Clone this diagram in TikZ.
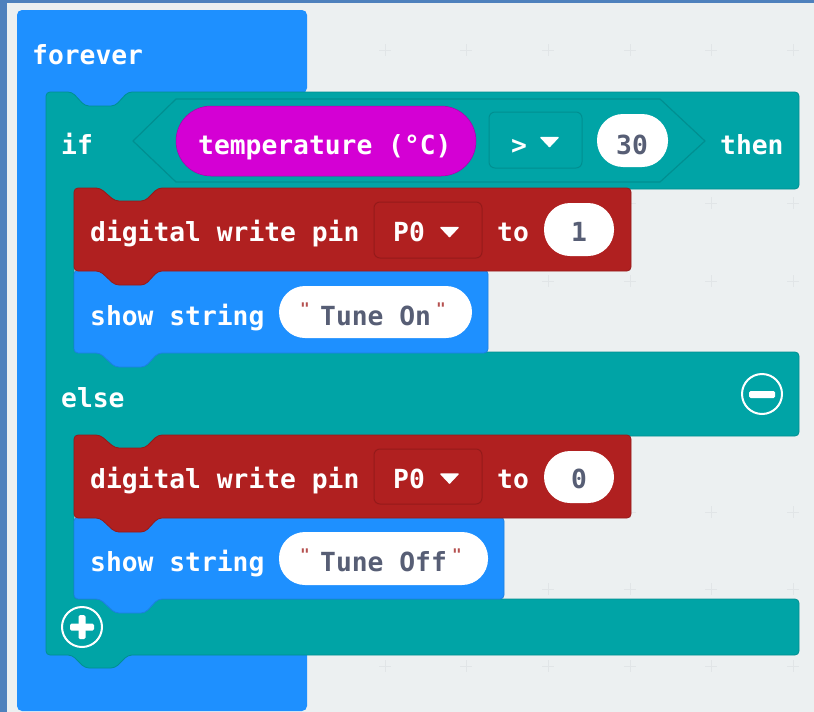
\documentclass[tikz,border=0pt]{standalone}
\usepackage{fontspec}
\setmainfont{DejaVu Sans Mono}[BoldFont={DejaVu Sans Mono Bold}]
\newfontfamily\qfont{DejaVu Sans Mono Bold}
\definecolor{bgc}{HTML}{ECF0F1}
\definecolor{framec}{HTML}{4E81BD}
\definecolor{gridc}{HTML}{E1E5E7}
\definecolor{bluec}{HTML}{1E90FF}
\definecolor{blued}{HTML}{1C7FE0}
\definecolor{tealc}{HTML}{00A4A6}
\definecolor{teald}{HTML}{008F91}
\definecolor{redc}{HTML}{B02020}
\definecolor{redd}{HTML}{951A1A}
\definecolor{pinkc}{HTML}{D400D4}
\definecolor{pinkd}{HTML}{AA00AA}
\definecolor{inkc}{HTML}{575E75}
\definecolor{quotec}{HTML}{B5504F}
\tikzset{
  x=1pt,y=-1pt,
  lbl/.style={text=white,inner sep=0pt,anchor=base west,font=\fontsize{26.3}{26}\selectfont\bfseries},
  val/.style={text=inkc,inner sep=0pt,anchor=base west,font=\fontsize{26.3}{26}\selectfont\bfseries},
  qt/.style={text=quotec,inner sep=0pt,anchor=base,font=\fontsize{16}{16}\qfont},
  drop/.style={line width=1pt,rounded corners=6pt},
  oval/.style={fill=white,rounded corners=26pt},
  tick/.style={gridc,line width=0.9pt},
  arrowdown/.style={fill=white,draw=white,line width=1.5pt,line join=round},
  icon/.style={draw=white,line width=2pt}
}
% x1 y1 x2 y2 fill stroke
\newcommand{\stackblock}[6]{%
  \path[fill=#5,draw=#6,line width=0.8pt,rounded corners=4pt]
    (#1,#2) -- ({#1+26},#2) -- ({#1+41},{#2+13}) -- ({#1+71},{#2+13}) -- ({#1+84},#2)
    -- (#3,#2) -- (#3,#4) -- ({#1+84},#4) -- ({#1+71},{#4+14}) -- ({#1+41},{#4+14})
    -- ({#1+26},#4) -- (#1,#4) -- cycle;}
\newcommand{\tri}[2]{\path[arrowdown] ({#1-8.5},{#2-4.5}) -- ({#1+8.5},{#2-4.5}) -- (#1,{#2+4.5}) -- cycle;}
\begin{document}
\begin{tikzpicture}
\useasboundingbox (0,0) rectangle (814,712);
\fill[bgc] (0,0) rectangle (814,712);
\fill[framec] (0,0) rectangle (814,3);
\fill[framec] (0,0) rectangle (7,712);
% grid
\foreach \gx in {385,466,548,630,711,793}
  \foreach \gy in {50,203,281,512,589,666}
    \draw[tick] ({\gx-6},\gy) -- ({\gx+6},\gy) (\gx,{\gy-6}) -- (\gx,{\gy+6});
% forever
\path[fill=bluec,rounded corners=5pt] (17,10) -- (307,10) -- (307,93) -- (135,93) -- (135,120)
  -- (60,120) -- (60,640) -- (307,640) -- (307,711) -- (17,711) -- cycle;
% if/else C shape
\path[fill=tealc,draw=teald,line width=0.8pt,rounded corners=4pt]
  (46,92) -- (72,92) -- (85,106) -- (115,106) -- (128,92) -- (799,92) -- (799,189)
  -- (158,189) -- (145,203) -- (115,203) -- (100,189) -- (74,189)
  -- (74,352) -- (799,352) -- (799,436)
  -- (158,436) -- (145,450) -- (115,450) -- (100,436) -- (74,436)
  -- (74,599) -- (799,599) -- (799,655)
  -- (128,655) -- (115,668) -- (85,668) -- (72,655) -- (46,655) -- cycle;
% condition
\draw[teald,line width=1.2pt,line join=round] (133,141) -- (176,99) -- (660,99) -- (705,141) -- (660,182) -- (176,182) -- cycle;
\path[fill=pinkc,draw=pinkd,line width=0.5pt,rounded corners=35pt] (176,106) rectangle (476,176);
\draw[drop,draw=teald] (489,112) rectangle (582,168);
\path[oval] (597,114) rectangle (668,167);
% body blocks
\stackblock{74}{270}{488}{353}{bluec}{blued}
\stackblock{74}{188}{631}{271}{redc}{redd}
\stackblock{74}{517}{504}{599}{bluec}{blued}
\stackblock{74}{435}{631}{518}{redc}{redd}
% row 1
\draw[drop,draw=redd] (374,202) rectangle (482,258);
\path[oval] (544,203) rectangle (614,256);
\path[oval] (279,286) rectangle (472,338);
% row 2
\draw[drop,draw=redd] (374,449) rectangle (482,504);
\path[oval] (544,451) rectangle (614,503);
\path[oval] (279,532) rectangle (488,585);
% labels
\node[lbl] (forever) at (32,64) {forever};
\node[lbl] (ifl) at (61,154) {if};
\node[lbl] (temp) at (198,154) {temperature (°C)};
\node[lbl] (gt) at (511,154) {>};
\tri{549.5}{142}
\node[val] (thirty) at (616,154) {30};
\node[lbl] (then) at (720,154) {then};
\node[lbl] (dw1) at (90,241) {digital write pin};
\node[lbl] (p1) at (393,241) {P0};
\tri{449.5}{232}
\node[lbl] (to1) at (497,241) {to};
\node[val] (one) at (571,241) {1};
\node[lbl] (ss1) at (90,325) {show string};
\node[qt] (q1a) at (305,314) {"};
\node[val] (tuneon) at (320,325) {Tune On};
\node[qt] (q1b) at (441,314) {"};
\node[lbl] (elsel) at (61,407) {else};
\node[lbl] (dw2) at (90,488) {digital write pin};
\node[lbl] (p2) at (393,488) {P0};
\tri{449.5}{478.5}
\node[lbl] (to2) at (497,488) {to};
\node[val] (zero) at (571,488) {0};
\node[lbl] (ss2) at (90,571) {show string};
\node[qt] (q2a) at (305,560) {"};
\node[val] (tuneoff) at (320,571) {Tune Off};
\node[qt] (q2b) at (457,560) {"};
% icons
\node[icon,circle,minimum size=40pt,inner sep=0pt] (minus) at (762,394) {};
\fill[white,rounded corners=1.5pt] (749,391) rectangle (775,398);
\node[icon,circle,minimum size=40pt,inner sep=0pt] (plus) at (82,627) {};
\fill[white,rounded corners=1.5pt] (70,623.5) rectangle (94,630.5);
\fill[white,rounded corners=1.5pt] (78.5,615) rectangle (85.5,639);
\end{tikzpicture}
\end{document}
